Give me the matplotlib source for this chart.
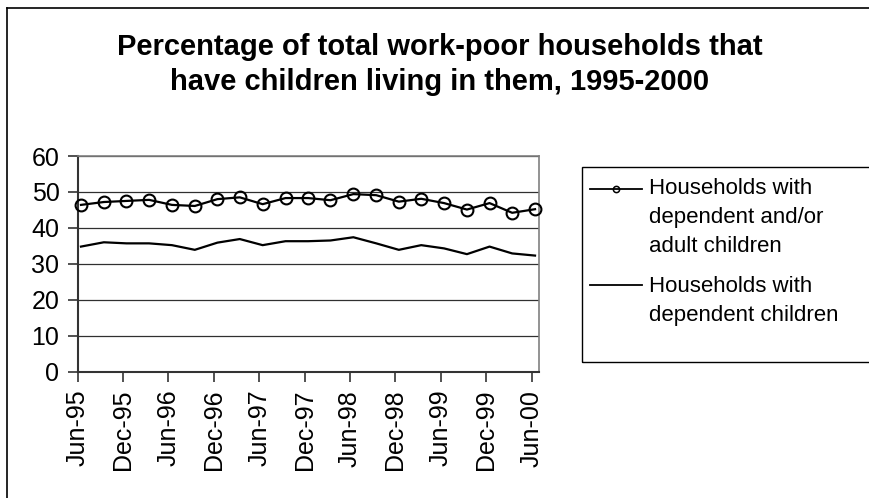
import numpy as np
import pandas as pd
import matplotlib
matplotlib.use('Agg')
import matplotlib.pyplot as plt
from matplotlib.lines import Line2D
from matplotlib.patches import Rectangle

plt.rcParams['font.family'] = ['Liberation Sans', 'DejaVu Sans']

# quarterly observations, mid-month, June 1995 to June 2000
fechas = pd.date_range('1995-06-01', periods=21, freq='3MS') + pd.Timedelta(days=14)
con_hijos_todos = [46.4, 47.2, 47.5, 47.8, 46.4, 46.1, 48.0, 48.5, 46.6, 48.3, 48.3,
                   47.7, 49.4, 49.1, 47.3, 48.1, 46.9, 45.1, 46.9, 44.2, 45.2]
con_hijos_dep = [34.8, 36.0, 35.7, 35.7, 35.2, 33.9, 35.9, 36.9, 35.2, 36.3, 36.3,
                 36.5, 37.4, 35.7, 33.9, 35.2, 34.3, 32.7, 34.8, 32.9, 32.3]
etiquetas_x = ['Jun-95', 'Dec-95', 'Jun-96', 'Dec-96', 'Jun-97', 'Dec-97',
               'Jun-98', 'Dec-98', 'Jun-99', 'Dec-99', 'Jun-00']
nombres = ['Households with\ndependent and/or\nadult children',
           'Households with\ndependent children']
titulo = 'Percentage of total work-poor households that\nhave children living in them, 1995-2000'

W, H = 869, 498
fig = plt.figure(figsize=(W / 100, H / 100), dpi=100)

# chart frame (open on the right and bottom)
fig.add_artist(Line2D([7.5 / W, 7.5 / W], [0, 1 - 8 / H], color='black', lw=1.2))
fig.add_artist(Line2D([7.5 / W, 1], [1 - 8 / H, 1 - 8 / H], color='black', lw=1.2))

ax = fig.add_axes([77.5 / W, 1 - 371.7 / H, (539 - 77.5) / W, (371.7 - 156) / H])

ax.plot(fechas, con_hijos_todos, color='black', lw=1.6, marker='o', ms=8.5,
        mfc='none', mec='black', mew=1.5, zorder=3, clip_on=False)
ax.plot(fechas, con_hijos_dep, color='black', lw=1.6, zorder=3)

ax.set_ylim(0, 60)
ax.set_yticks(range(0, 61, 10))
ax.set_xlim(pd.Timestamp('1995-06-01'), pd.Timestamp('2000-07-01'))
ticks_x = pd.date_range('1995-06-01', '2000-06-01', freq='6MS')
ax.set_xticks(ticks_x)
ax.set_xticklabels(etiquetas_x, rotation=90)

ax.yaxis.grid(True, color='#303030', lw=0.9)
ax.set_axisbelow(True)
for lado in ['top', 'right']:
    ax.spines[lado].set_color('#808080')
    ax.spines[lado].set_linewidth(1.2)
for lado in ['left', 'bottom']:
    ax.spines[lado].set_color('#333333')
    ax.spines[lado].set_linewidth(1.5)
ax.tick_params(axis='both', direction='out', length=7, width=1.2, color='#333333',
               labelsize=18, pad=6)

fig.text(440 / W, 1 - 64.5 / H, titulo, ha='center', va='center', fontsize=21,
         fontweight='bold', linespacing=1.3)

# legend box
fig.add_artist(Rectangle((581.7 / W, 1 - 361.7 / H), (W + 10 - 581.7) / W,
                         (361.7 - 166.7) / H, transform=fig.transFigure,
                         fill=False, ec='black', lw=1.0))
y_texto = [189, 287]
y_linea = [189, 285]
for i, nombre in enumerate(nombres):
    yl = 1 - y_linea[i] / H
    fig.add_artist(Line2D([590 / W, 642 / W], [yl, yl], color='black', lw=1.3))
    if i == 0:
        fig.add_artist(Line2D([616 / W], [yl], marker='o', ms=4.5, mfc='none',
                              mec='black', mew=1.1, color='black'))
    fig.text(649 / W, 1 - (y_texto[i] - 11) / H, nombre, ha='left', va='top',
             fontsize=16, linespacing=1.5)

fig.savefig('out.png', dpi=100)
